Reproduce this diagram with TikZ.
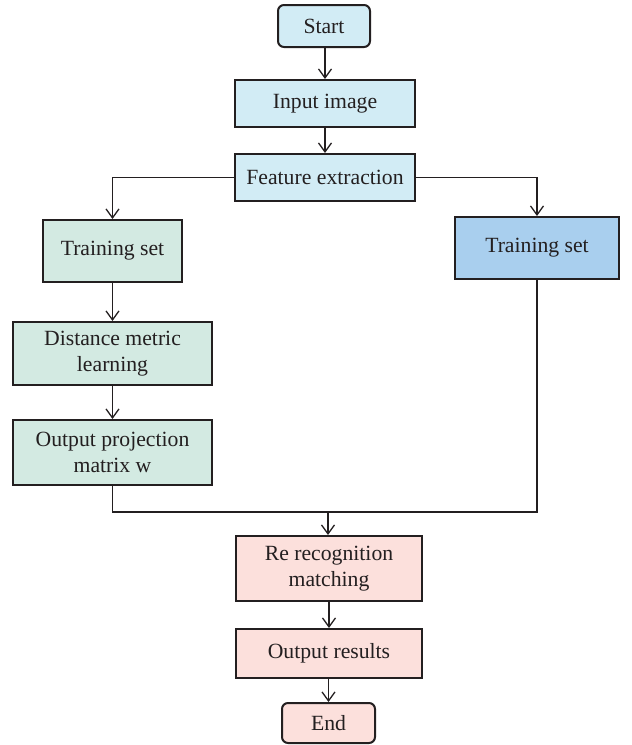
\documentclass[tikz,border=0pt]{standalone}
\usepackage{fontspec}
\setmainfont{Liberation Serif}
\usetikzlibrary{arrows.meta}
\definecolor{cyanbox}{HTML}{D2ECF5}
\definecolor{greenbox}{HTML}{D3EAE2}
\definecolor{bluebox}{HTML}{A9CFEE}
\definecolor{pinkbox}{HTML}{FCE0DC}
\definecolor{edge}{HTML}{231F20}
\begin{document}
\begin{tikzpicture}[x=1pt,y=-1pt,
  box/.style={draw=edge, line width=2pt, inner sep=0pt, align=center,
    font=\fontsize{21.7}{26}\selectfont, text=edge},
  term/.style={box, rounded corners=6pt},
  conn/.style={draw=edge, line width=1.3pt},
  arr/.style={conn, -{Straight Barb[length=9pt,width=13pt,line width=1.3pt]}}]
\useasboundingbox (0,0) rectangle (632,745);
\node[term, fill=cyanbox, minimum width=92pt, minimum height=42pt] (start) at (324,26) {Start};
\node[box, fill=cyanbox, minimum width=180pt, minimum height=47pt] (input) at (325,103.5) {Input image};
\node[box, fill=cyanbox, minimum width=180pt, minimum height=47pt] (feat) at (325,177.5) {Feature extraction};
\node[box, fill=greenbox, minimum width=139pt, minimum height=62pt] (trainl) at (112.5,251) {Training set};
\node[box, fill=bluebox, minimum width=164pt, minimum height=62pt] (trainr) at (537,248) {Training set};
\node[box, fill=greenbox, minimum width=199pt, minimum height=63pt] (dist) at (112.5,353.5) {Distance metric\\learning};
\node[box, fill=greenbox, minimum width=199pt, minimum height=65pt] (proj) at (112.5,452.5) {Output projection\\matrix w};
\node[box, fill=pinkbox, minimum width=186pt, minimum height=65pt] (rerec) at (329,568.5) {Re recognition\\matching};
\node[box, fill=pinkbox, minimum width=186pt, minimum height=49pt] (outres) at (329,653.5) {Output results};
\node[term, fill=pinkbox, minimum width=93pt, minimum height=40pt] (end) at (328.5,723) {End};
\coordinate (j) at (328,512);
\draw[arr] (start.south -| input.north) -- (input.north);
\draw[arr] (input) -- (feat);
\draw[arr] (feat.west) -| (trainl.north);
\draw[arr] (feat.east) -| (trainr.north);
\draw[arr] (trainl) -- (dist);
\draw[arr] (dist) -- (proj);
\draw[conn] (proj.south) |- (j) -| (trainr.south);
\draw[arr] (j) -- (j |- rerec.north);
\draw[arr] (rerec) -- (rerec.south |- outres.north);
\draw[arr] (outres.south -| end.north) -- (end.north);
\end{tikzpicture}
\end{document}
